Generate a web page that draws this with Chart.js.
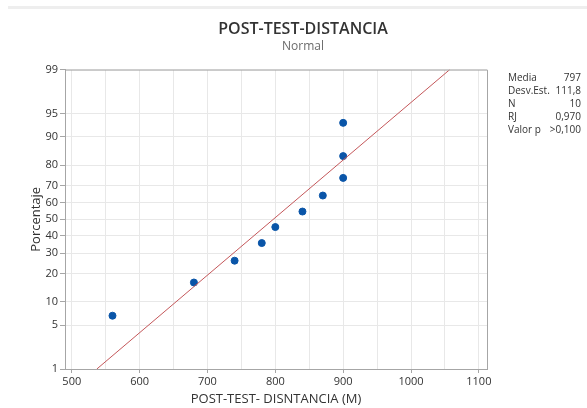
<!DOCTYPE html>
<html>
<head>
<meta charset="utf-8">
<script src="https://cdn.jsdelivr.net/npm/chart.js@4.4.1/dist/chart.umd.min.js"></script>
<style>
html, body { margin: 0; padding: 0; background: #fff; }
#wrap { width: 587px; height: 408px; position: relative; }
</style>
</head>
<body>
<div id="wrap"><canvas id="myChart"></canvas></div>
<script>
// datos
const distancia = [560, 680, 740, 780, 800, 840, 870, 900, 900, 900];
const porcentaje = [6.7, 16.3, 26.0, 35.6, 45.2, 54.8, 64.4, 74.0, 83.7, 93.3];
const yTickLabels = [1, 5, 10, 20, 30, 40, 50, 60, 70, 80, 90, 95, 99];
const xTickLabels = [500, 600, 700, 800, 900, 1000, 1100];
const statNames = ['Media', 'Desv.Est.', 'N', 'RJ', 'Valor p'];
const statValues = ['797', '111,8', '10', '0,970', '>0,100'];
const media = 797;
const desvEst = 111.8;

const FONT = "'Open Sans', 'Noto Sans', sans-serif";

// inversa de la normal (Acklam) para la escala de probabilidad
function probit(p) {
    const a = [-3.969683028665376e+01, 2.209460984245205e+02, -2.759285104469687e+02, 1.383577518672690e+02, -3.066479806614716e+01, 2.506628277459239e+00];
    const b = [-5.447609879822406e+01, 1.615858368580409e+02, -1.556989798598866e+02, 6.680131188771972e+01, -1.328068155288572e+01];
    const c = [-7.784894002430293e-03, -3.223964580411365e-01, -2.400758277161838e+00, -2.549732539343734e+00, 4.374664141464968e+00, 2.938163982698783e+00];
    const d = [7.784695709041462e-03, 3.224671290700398e-01, 2.445134137142996e+00, 3.754408661907416e+00];
    const pl = 0.02425;
    let q, r;
    if (p < pl) {
        q = Math.sqrt(-2 * Math.log(p));
        return (((((c[0]*q+c[1])*q+c[2])*q+c[3])*q+c[4])*q+c[5]) / ((((d[0]*q+d[1])*q+d[2])*q+d[3])*q+1);
    }
    if (p <= 1 - pl) {
        q = p - 0.5; r = q * q;
        return (((((a[0]*r+a[1])*r+a[2])*r+a[3])*r+a[4])*r+a[5])*q / (((((b[0]*r+b[1])*r+b[2])*r+b[3])*r+b[4])*r+1);
    }
    q = Math.sqrt(-2 * Math.log(1 - p));
    return -(((((c[0]*q+c[1])*q+c[2])*q+c[3])*q+c[4])*q+c[5]) / ((((d[0]*q+d[1])*q+d[2])*q+d[3])*q+1);
}

const zMin = probit(0.01);
const zMax = probit(0.99);
const puntos = distancia.map((x, i) => ({ x: x, y: probit(porcentaje[i] / 100) }));
const ajuste = [
    { x: media + desvEst * zMin, y: zMin },
    { x: media + desvEst * zMax, y: zMax }
];

const extras = {
    id: 'extras',
    beforeDraw(chart) {
        const c = chart.ctx;
        c.save();
        c.fillStyle = '#eeeeee';
        c.fillRect(8, 6, 579, 3);
        c.restore();
    },
    afterDraw(chart) {
        const c = chart.ctx;
        const a = chart.chartArea;
        c.save();
        c.strokeStyle = '#a6a6a6';
        c.lineWidth = 1;
        c.beginPath();
        c.moveTo(a.left, a.top + 0.5);
        c.lineTo(a.right + 0.5, a.top + 0.5);
        c.lineTo(a.right + 0.5, a.bottom);
        c.stroke();
        c.font = '10px ' + FONT;
        c.fillStyle = '#333';
        c.textBaseline = 'middle';
        statNames.forEach((s, i) => {
            const y = 78 + i * 13;
            c.textAlign = 'left';
            c.fillText(s, 508, y);
            c.textAlign = 'right';
            c.fillText(statValues[i], 581, y);
        });
        c.restore();
    }
};

const ctx = document.getElementById('myChart').getContext('2d');
let myChart = new Chart(ctx, {
    type: 'scatter',
    data: {
        datasets: [{
            label: 'Ajuste',
            type: 'line',
            data: ajuste,
            borderColor: '#c4575a',
            borderWidth: 1,
            pointRadius: 0,
            fill: false
        }, {
            label: 'POST-TEST-DISTANCIA',
            data: puntos,
            backgroundColor: '#0a55a8',
            borderColor: '#0a55a8',
            pointRadius: 3.5,
            pointHoverRadius: 3.5
        }]
    },
    options: {
        responsive: true,
        maintainAspectRatio: false,
        animation: false,
        layout: { padding: { left: 19, right: 0, top: 0, bottom: 0 } },
        plugins: {
            legend: { display: false },
            tooltip: { enabled: false },
            title: {
                display: true,
                text: 'POST-TEST-DISTANCIA',
                color: '#333',
                font: { family: FONT, size: 16, weight: '600' },
                padding: { top: 20, bottom: 0 }
            },
            subtitle: {
                display: true,
                text: 'Normal',
                color: '#6b6b6b',
                font: { family: FONT, size: 12 },
                padding: { top: 0, bottom: 16 }
            }
        },
        scales: {
            x: {
                type: 'linear',
                min: 490,
                max: 1112,
                afterBuildTicks: (scale) => {
                    const t = [];
                    for (let v = 500; v <= 1100; v += 50) t.push({ value: v });
                    scale.ticks = t;
                },
                afterFit: (scale) => { scale.height = 39; },
                ticks: {
                    color: '#333',
                    font: { family: FONT, size: 11 },
                    padding: 2,
                    maxRotation: 0,
                    autoSkip: false,
                    callback: (v) => xTickLabels.includes(v) ? String(v) : ''
                },
                grid: {
                    color: '#e8e8e8',
                    tickLength: 4,
                    tickColor: (c) => (c.tick && xTickLabels.includes(c.tick.value)) ? '#a6a6a6' : 'rgba(0,0,0,0)'
                },
                border: { color: '#a6a6a6' },
                title: {
                    display: true,
                    text: 'POST-TEST- DISNTANCIA (M)',
                    color: '#333',
                    font: { family: FONT, size: 13 },
                    padding: { top: 0, bottom: 1 }
                }
            },
            y: {
                type: 'linear',
                min: zMin,
                max: zMax,
                afterBuildTicks: (scale) => {
                    scale.ticks = yTickLabels.map(p => ({ value: probit(p / 100) }));
                },
                afterFit: (scale) => { scale.width = 46; },
                ticks: {
                    color: '#333',
                    font: { family: FONT, size: 11 },
                    padding: 2,
                    autoSkip: false,
                    callback: (v, i) => String(yTickLabels[i])
                },
                grid: {
                    color: '#e8e8e8',
                    tickLength: 5,
                    tickColor: '#a6a6a6'
                },
                border: { color: '#a6a6a6' },
                title: {
                    display: true,
                    text: 'Porcentaje',
                    color: '#333',
                    font: { family: FONT, size: 13 },
                    padding: { top: 9, bottom: 0 }
                }
            },
            // espacio vacio a la derecha para el cuadro de estadisticos
            yDer: {
                type: 'linear',
                position: 'right',
                min: zMin,
                max: zMax,
                afterFit: (scale) => { scale.width = 100; },
                ticks: { display: false },
                grid: { display: false },
                border: { display: false }
            }
        }
    },
    plugins: [extras]
});
</script>
</body>
</html>
